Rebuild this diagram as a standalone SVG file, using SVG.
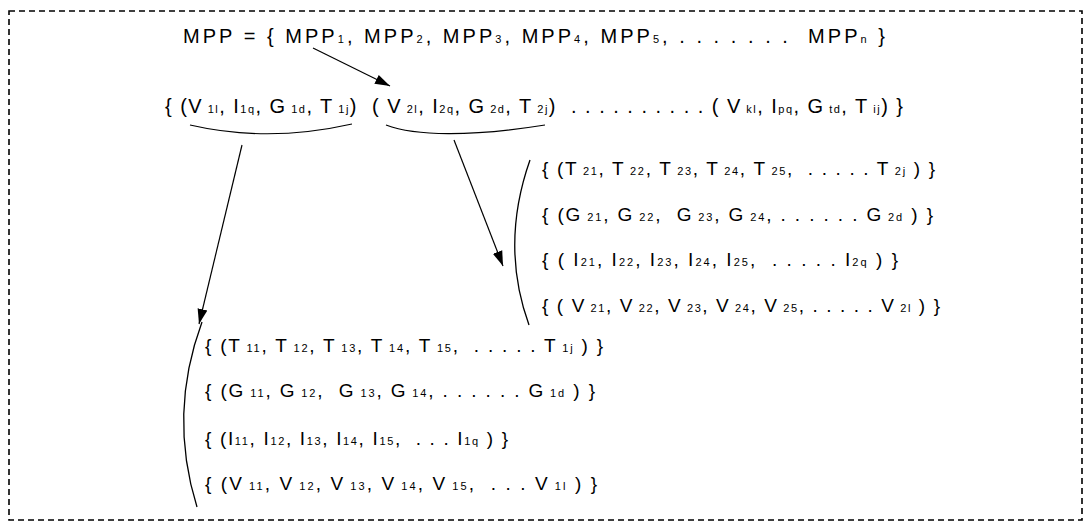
<svg xmlns="http://www.w3.org/2000/svg" width="1084" height="523" viewBox="0 0 1084 523">
<style>
text{font-family:"Liberation Sans",Arial,sans-serif;fill:#000;white-space:pre}
.t{font-size:20px}
.b{font-size:19px}
.s{font-size:11px}
.ln{fill:none;stroke:#000;stroke-width:1.2}
.br{fill:none;stroke:#000;stroke-width:1.3}
</style>
<defs>
<marker id="ah" markerUnits="userSpaceOnUse" markerWidth="16" markerHeight="12" refX="15" refY="5" orient="auto" viewBox="0 0 16 10">
<path d="M0,0 L15,5 L0,10 z" fill="#000"/>
</marker>
</defs>
<rect x="9" y="11" width="1073" height="509" fill="none" stroke="#000" stroke-width="1.6" stroke-dasharray="6,4"/>
<g id="mpp">
<text class="t" x="183" y="43" textLength="702" lengthAdjust="spacing" xml:space="preserve">MPP = { MPP<tspan class="s">1</tspan>, MPP<tspan class="s">2</tspan>, MPP<tspan class="s">3</tspan>, MPP<tspan class="s">4</tspan>, MPP<tspan class="s">5</tspan>, . . . . . . .  MPP<tspan class="s">n</tspan> }</text>
</g>
<g id="tuples">
<text class="t" x="165" y="113" textLength="738" lengthAdjust="spacing" xml:space="preserve">{ (V<tspan class="s"> 1l</tspan>, I<tspan class="s">1q</tspan>, G<tspan class="s"> 1d</tspan>, T<tspan class="s"> 1j</tspan>)  ( V<tspan class="s"> 2l</tspan>, I<tspan class="s">2q</tspan>, G<tspan class="s"> 2d</tspan>, T<tspan class="s"> 2j</tspan>)  . . . . . . . . . . ( V<tspan class="s"> kl</tspan>, I<tspan class="s">pq</tspan>, G<tspan class="s"> td</tspan>, T<tspan class="s"> ij</tspan>) }</text>
<path class="ln" d="M190,125 Q268,143 352,124"/>
<path class="ln" d="M386,125 C415,136 470,137 545,125"/>
</g>
<g id="set2">
<path class="br" d="M530,160 Q500,245 529,325"/>
<text class="b" x="542" y="175" textLength="393" lengthAdjust="spacing" xml:space="preserve">{ (T<tspan class="s"> 21</tspan>, T<tspan class="s"> 22</tspan>, T<tspan class="s"> 23</tspan>, T<tspan class="s"> 24</tspan>, T<tspan class="s"> 25</tspan>,  . . . . . T<tspan class="s"> 2j</tspan> ) }</text>
<text class="b" x="542" y="221" textLength="391" lengthAdjust="spacing" xml:space="preserve">{ (G<tspan class="s"> 21</tspan>, G<tspan class="s"> 22</tspan>,  G<tspan class="s"> 23</tspan>, G<tspan class="s"> 24</tspan>, . . . . . . G<tspan class="s"> 2d</tspan> ) }</text>
<text class="b" x="542" y="266" textLength="356" lengthAdjust="spacing" xml:space="preserve">{ ( I<tspan class="s">21</tspan>, I<tspan class="s">22</tspan>, I<tspan class="s">23</tspan>, I<tspan class="s">24</tspan>, I<tspan class="s">25</tspan>,  . . . . . I<tspan class="s">2q</tspan> ) }</text>
<text class="b" x="542" y="312" textLength="398" lengthAdjust="spacing" xml:space="preserve">{ ( V<tspan class="s"> 21</tspan>, V<tspan class="s"> 22</tspan>, V<tspan class="s"> 23</tspan>, V<tspan class="s"> 24</tspan>, V<tspan class="s"> 25</tspan>, . . . . . V<tspan class="s"> 2l</tspan> ) }</text>
</g>
<g id="set1">
<path class="br" d="M202,322 Q168,414 197,507"/>
<text class="b" x="205" y="352" textLength="398" lengthAdjust="spacing" xml:space="preserve">{ (T<tspan class="s"> 11</tspan>, T<tspan class="s"> 12</tspan>, T<tspan class="s"> 13</tspan>, T<tspan class="s"> 14</tspan>, T<tspan class="s"> 15</tspan>,  . . . . . T<tspan class="s"> 1j</tspan> ) }</text>
<text class="b" x="205" y="397" textLength="390" lengthAdjust="spacing" xml:space="preserve">{ (G<tspan class="s"> 11</tspan>, G<tspan class="s"> 12</tspan>,  G<tspan class="s"> 13</tspan>, G<tspan class="s"> 14</tspan>, . . . . . . G<tspan class="s"> 1d</tspan> ) }</text>
<text class="b" x="205" y="445" textLength="303" lengthAdjust="spacing" xml:space="preserve">{ (I<tspan class="s">11</tspan>, I<tspan class="s">12</tspan>, I<tspan class="s">13</tspan>, I<tspan class="s">14</tspan>, I<tspan class="s">15</tspan>,  . . . I<tspan class="s">1q</tspan> ) }</text>
<text class="b" x="205" y="490" textLength="392" lengthAdjust="spacing" xml:space="preserve">{ (V<tspan class="s"> 11</tspan>, V<tspan class="s"> 12</tspan>, V<tspan class="s"> 13</tspan>, V<tspan class="s"> 14</tspan>, V<tspan class="s"> 15</tspan>,  . . . V<tspan class="s"> 1l</tspan> ) }</text>
</g>
<g id="connectors">
<line class="ln" x1="313" y1="48" x2="390" y2="86" marker-end="url(#ah)"/>
<line class="ln" x1="242" y1="145" x2="199" y2="324" marker-end="url(#ah)"/>
<line class="ln" x1="454" y1="140" x2="503" y2="266" marker-end="url(#ah)"/>
</g>
</svg>
